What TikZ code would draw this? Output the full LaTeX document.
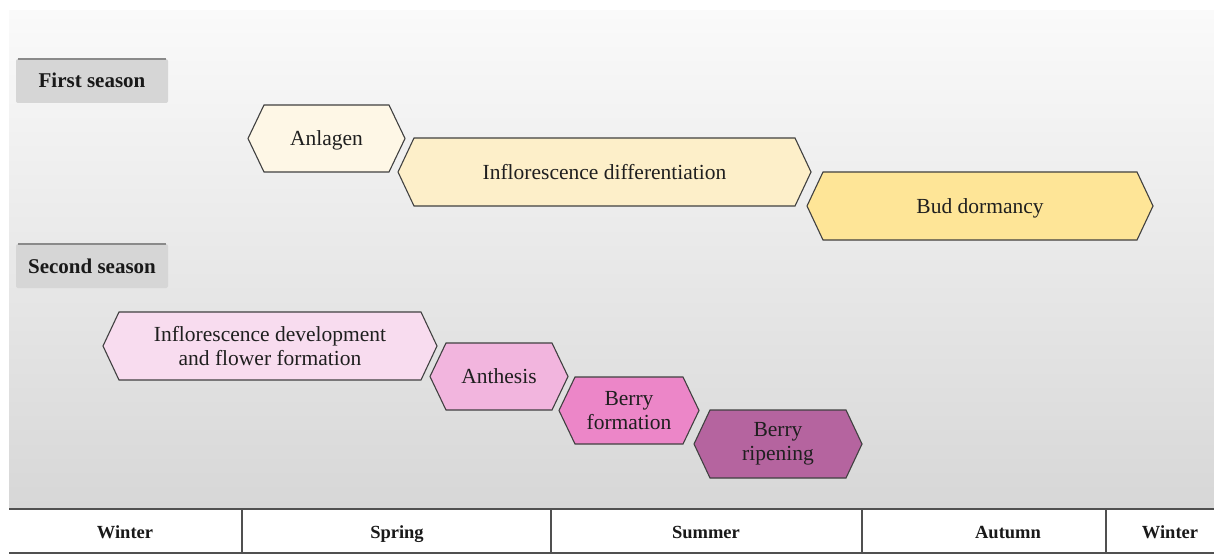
\documentclass[tikz,border=0pt]{standalone}
\usepackage{fontspec}
\setmainfont{Liberation Serif}
\definecolor{bgtop}{HTML}{FAFAFA}
\definecolor{bgbot}{HTML}{D7D7D7}
\definecolor{edgecol}{HTML}{404040}
\definecolor{cAnl}{HTML}{FEF7E6}
\definecolor{cDif}{HTML}{FDEFC9}
\definecolor{cBud}{HTML}{FEE597}
\definecolor{cDev}{HTML}{F8DCEF}
\definecolor{cAnt}{HTML}{F2B5DE}
\definecolor{cBfo}{HTML}{EC86C8}
\definecolor{cBri}{HTML}{B5649F}
\definecolor{boxfill}{HTML}{D6D6D6}
\definecolor{boxtop}{HTML}{8A8A8A}
\definecolor{tabline}{HTML}{505050}
\tikzset{
  phaseedge/.style={draw=edgecol, line width=1.1pt, line join=miter},
  phasetext/.style={font=\fontsize{21.5}{24}\selectfont, align=center, text=black!88, inner sep=0pt},
  seasonbox/.style={fill=boxfill, rounded corners=2pt, minimum width=152pt, minimum height=44pt,
    font=\bfseries\fontsize{21}{24}\selectfont, text=black!90, inner sep=0pt, text height=14pt, text depth=0pt},
  tabtext/.style={font=\bfseries\fontsize{18.5}{22}\selectfont, text=black!90, inner sep=0pt, anchor=base},
  tabrule/.style={draw=tabline, line width=1.4pt}
}
\newcommand\hexphase[7]{%
  \filldraw[phaseedge, fill=#6] (#2,{(#4+#5)/2}) -- ({#2+16},#4) -- ({#3-16},#4) -- (#3,{(#4+#5)/2})
     -- ({#3-16},#5) -- ({#2+16},#5) -- cycle;
  \node[phasetext] (#1) at ({(#2+#3)/2},{(#4+#5)/2}) {#7};
}
\begin{document}
\begin{tikzpicture}[x=1pt,y=-1pt]
\useasboundingbox (0,0) rectangle (1214,556);
% background
\shade[top color=bgtop, bottom color=bgbot] (9,11) rectangle (1214,508);
% season labels
\node[seasonbox] (first) at (92,81) {First season};
\draw[boxtop, line width=2.5pt] ([xshift=2pt]first.north west) -- ([xshift=-2pt]first.north east);
\node[seasonbox] (second) at (92,266) {Second season};
\draw[boxtop, line width=2.5pt] ([xshift=2pt]second.north west) -- ([xshift=-2pt]second.north east);
% first season phases
\hexphase{anl}{248}{405}{105}{172}{cAnl}{\raisebox{0pt}[14pt][0pt]{Anlagen}}
\hexphase{dif}{398}{811}{138}{206}{cDif}{Inflorescence differentiation}
\hexphase{bud}{807}{1153}{172}{240}{cBud}{\raisebox{0pt}[14pt][0pt]{Bud dormancy}}
% second season phases
\hexphase{dev}{103}{437}{312}{380}{cDev}{Inflorescence development\\and flower formation}
\hexphase{ant}{430}{568}{343}{410}{cAnt}{Anthesis}
\hexphase{bfo}{559}{699}{377}{444}{cBfo}{Berry\\formation}
\hexphase{bri}{694}{862}{410}{478}{cBri}{Berry\\ripening}
% season table
\fill[white] (9,509) rectangle (1214,553);
\draw[tabrule] (9,509) -- (1214,509);
\draw[tabrule] (9,553) -- (1214,553);
\foreach \xx in {242,551,862,1106} \draw[tabrule] (\xx,509) -- (\xx,553);
\node[tabtext] (w1) at (125,538) {Winter};
\node[tabtext] (sp) at (397,538) {Spring};
\node[tabtext] (su) at (706,538) {Summer};
\node[tabtext] (au) at (1008,538) {Autumn};
\node[tabtext] (w2) at (1170,538) {Winter};
\end{tikzpicture}
\end{document}
